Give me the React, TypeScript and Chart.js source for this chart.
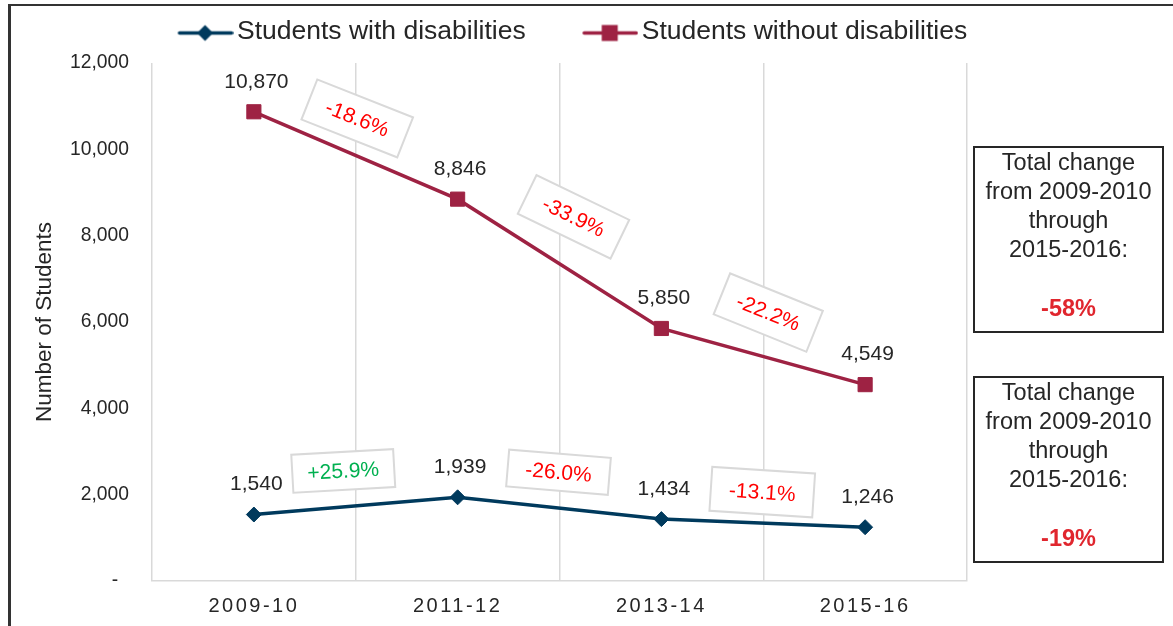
import React, { useEffect, useRef } from 'react';
import { Chart, registerables } from 'chart.js';

Chart.register(...registerables);

// ---------- data ----------
const categories = ['2009-10', '2011-12', '2013-14', '2015-16'];
const seriesNames = ['Students with disabilities', 'Students without disabilities'];
const withDisabilities = [1540, 1939, 1434, 1246];
const withoutDisabilities = [10870, 8846, 5850, 4549];
const yTicks = [0, 2000, 4000, 6000, 8000, 10000, 12000];
const changeWith = ['+25.9%', '-26.0%', '-13.1%'];
const changeWithout = ['-18.6%', '-33.9%', '-22.2%'];
const totalChangeLines = ['Total change', 'from 2009-2010', 'through', '2015-2016:'];
const totalChangeWithout = '-58%';
const totalChangeWith = '-19%';
const yTitle = 'Number of Students';

// ---------- style ----------
const FONT = "'Liberation Sans', Arial, Helvetica, sans-serif";
const BLUE = '#003A5D';
const RED = '#9E2243';
const TEXT = '#262626';
const GRID = '#d9d9d9';
const PCT_RED = '#FF0000';
const PCT_GREEN = '#00B050';
const TOTAL_RED = '#E0262E';

// change-box layout relative to segment midpoints (styling only)
const boxLayoutWithout = [
  { dx: 1.5, dy: -37, angle: 21.6, w: 103, h: 43 },
  { dx: 14, dy: -47, angle: 25.8, w: 103, h: 43 },
  { dx: 5, dy: -44, angle: 22, w: 100, h: 44 },
];
const boxLayoutWith = [
  { dx: -12.5, dy: -35, angle: -3.2, w: 102, h: 38 },
  { dx: -1, dy: -36, angle: 4.7, w: 102, h: 37 },
  { dx: -1, dy: -31, angle: 3.7, w: 103, h: 44 },
];

function makeLegendImage(color: string, kind: 'diamond' | 'square') {
  const c = document.createElement('canvas');
  c.width = 104;
  c.height = 24;
  const g = c.getContext('2d')!;
  const y = 13.5;
  const x0 = 48.5;
  g.strokeStyle = color;
  g.lineWidth = 3.5;
  g.lineCap = 'round';
  g.beginPath();
  g.moveTo(x0 + 1.5, y);
  g.lineTo(x0 + 53.5, y);
  g.stroke();
  const cx = x0 + 27;
  g.fillStyle = color;
  if (kind === 'diamond') {
    g.beginPath();
    g.moveTo(cx - 8, y);
    g.lineTo(cx, y - 8);
    g.lineTo(cx + 8, y);
    g.lineTo(cx, y + 8);
    g.closePath();
    g.fill();
  } else {
    g.fillRect(cx - 8, y - 8, 16, 16);
  }
  return c;
}

function drawChangeBoxes(ctx: CanvasRenderingContext2D, meta: any, labels: string[], layout: any[]) {
  for (let k = 0; k < labels.length; k++) {
    const a = meta.data[k];
    const b = meta.data[k + 1];
    if (!a || !b) continue;
    const L = layout[k];
    const cx = (a.x + b.x) / 2 + L.dx;
    const cy = (a.y + b.y) / 2 + L.dy;
    ctx.save();
    ctx.translate(cx, cy);
    ctx.rotate((L.angle * Math.PI) / 180);
    ctx.fillStyle = '#ffffff';
    ctx.fillRect(-L.w / 2, -L.h / 2, L.w, L.h);
    ctx.strokeStyle = GRID;
    ctx.lineWidth = 2;
    ctx.strokeRect(-L.w / 2, -L.h / 2, L.w, L.h);
    ctx.fillStyle = labels[k].startsWith('+') ? PCT_GREEN : PCT_RED;
    ctx.font = `21px ${FONT}`;
    ctx.textAlign = 'center';
    ctx.textBaseline = 'middle';
    ctx.fillText(labels[k], 0, 1);
    ctx.restore();
  }
}

function drawTotalBox(ctx: CanvasRenderingContext2D, left: number, top: number, value: string) {
  const w = 189;
  const h = 185;
  ctx.save();
  ctx.fillStyle = '#ffffff';
  ctx.fillRect(left, top, w, h);
  ctx.strokeStyle = TEXT;
  ctx.lineWidth = 2;
  ctx.strokeRect(left, top, w, h);
  ctx.textAlign = 'center';
  ctx.textBaseline = 'middle';
  ctx.fillStyle = TEXT;
  ctx.font = `23.5px ${FONT}`;
  const cx = left + w / 2;
  totalChangeLines.forEach((line, i) => {
    ctx.fillText(line, cx, top + 17 + i * 28.7);
  });
  ctx.fillStyle = TOTAL_RED;
  ctx.font = `bold 23.5px ${FONT}`;
  ctx.fillText(value, cx, top + 163);
  ctx.restore();
}

const overlayPlugin = {
  id: 'overlayPlugin',
  beforeLayout(chart: any) {
    const lg = chart.legend;
    if (lg && !lg.__patched) {
      const orig = lg.fit;
      lg.fit = function () {
        orig.call(this);
        this.height += 8.25;
      };
      lg.__patched = true;
    }
  },
  beforeDraw(chart: any) {
    (chart.ctx as any).letterSpacing = '0px';
  },
  afterDatasetsDraw(chart: any) {
    const ctx: CanvasRenderingContext2D = chart.ctx;
    ctx.save();
    ctx.font = `21px ${FONT}`;
    ctx.fillStyle = TEXT;
    ctx.textAlign = 'center';
    ctx.textBaseline = 'middle';
    chart.data.datasets.forEach((ds: any, i: number) => {
      const meta = chart.getDatasetMeta(i);
      meta.data.forEach((pt: any, j: number) => {
        ctx.fillText(Number(ds.data[j]).toLocaleString('en-US'), pt.x + 2.5, pt.y - 30);
      });
    });
    ctx.restore();
    // letter-spaced category labels are drawn next (x ticks layer z = 1)
    (ctx as any).letterSpacing = '2.5px';
  },
  afterDraw(chart: any) {
    const ctx: CanvasRenderingContext2D = chart.ctx;
    (ctx as any).letterSpacing = '0px';
    drawChangeBoxes(ctx, chart.getDatasetMeta(1), changeWithout, boxLayoutWithout);
    drawChangeBoxes(ctx, chart.getDatasetMeta(0), changeWith, boxLayoutWith);
    const left = chart.chartArea.right + 7;
    drawTotalBox(ctx, left, 147, totalChangeWithout);
    drawTotalBox(ctx, left, 377, totalChangeWith);
  },
};

export default function App() {
  const ref = useRef<HTMLCanvasElement>(null);

  useEffect(() => {
    if (!ref.current) return;
    const legendImages = [makeLegendImage(BLUE, 'diamond'), makeLegendImage(RED, 'square')];
    Chart.defaults.font.family = FONT;
    const chart = new Chart(ref.current, {
      type: 'line',
      data: {
        labels: categories,
        datasets: [
          {
            label: seriesNames[0],
            data: withDisabilities,
            borderColor: BLUE,
            backgroundColor: BLUE,
            borderWidth: 3.5,
            pointStyle: 'rectRot',
            pointRadius: 7.5,
            pointBorderWidth: 1,
            pointBackgroundColor: BLUE,
            pointBorderColor: BLUE,
            tension: 0,
            yAxisID: 'y',
          },
          {
            label: seriesNames[1],
            data: withoutDisabilities,
            borderColor: RED,
            backgroundColor: RED,
            borderWidth: 3.5,
            pointStyle: 'rect',
            pointRadius: 10,
            pointBorderWidth: 1,
            pointBackgroundColor: RED,
            pointBorderColor: RED,
            tension: 0,
            yAxisID: 'y',
          },
        ],
      },
      options: {
        responsive: false,
        animation: false,
        events: [],
        layout: { padding: { left: 0, right: 66.5, top: 0, bottom: 0 } },
        plugins: {
          tooltip: { enabled: false },
          legend: {
            position: 'top',
            align: 'center',
            labels: {
              usePointStyle: true,
              pointStyleWidth: 84.5,
              padding: 18.25,
              color: TEXT,
              font: { size: 26.5, family: FONT },
              generateLabels: (c: any) => {
                const items = (Chart.defaults.plugins.legend.labels as any).generateLabels(c);
                return items.map((it: any, i: number) => ({ ...it, pointStyle: legendImages[i] }));
              },
            },
          },
        },
        scales: {
          x: {
            type: 'category',
            offset: true,
            grid: { display: true, offset: true, color: GRID, lineWidth: 1.5, drawTicks: false },
            border: { display: true, color: GRID, width: 1.5 },
            ticks: {
              color: TEXT,
              font: { size: 20, family: FONT },
              padding: 13.5,
              maxRotation: 0,
              autoSkip: false,
              z: 1,
            },
            afterFit: (s: any) => {
              s.height = 45;
            },
          },
          y: {
            type: 'linear',
            position: 'left',
            min: 0,
            max: 12000,
            grid: { display: false, drawTicks: false },
            border: { display: false },
            ticks: {
              color: TEXT,
              font: { size: 19.3, family: FONT },
              padding: 23,
              callback: (v: any) => (Number(v) === 0 ? '-  ' : Number(v).toLocaleString('en-US')),
            },
            afterBuildTicks: (s: any) => {
              s.ticks = yTicks.map((v) => ({ value: v }));
            },
            title: {
              display: true,
              text: yTitle,
              color: TEXT,
              font: { size: 22.5, family: FONT },
              padding: { top: 31.5, bottom: 0 },
            },
            afterFit: (s: any) => {
              s.width = 152;
            },
          },
          yR: {
            type: 'linear',
            position: 'right',
            display: true,
            grid: { display: false, drawTicks: false },
            border: { display: false },
            ticks: { display: false },
            afterFit: (s: any) => {
              s.width = 139.5;
            },
          },
        },
      } as any,
      plugins: [overlayPlugin as any],
    });
    return () => chart.destroy();
  }, []);

  return (
    <div
      style={{
        position: 'absolute',
        left: 0,
        top: 0,
        width: 1173,
        height: 626,
        overflow: 'hidden',
        background: '#ffffff',
      }}
    >
      <div
        style={{
          position: 'absolute',
          left: 8,
          top: 4,
          width: 1400,
          height: 900,
          borderLeft: '3px solid #333333',
          borderTop: '2px solid #333333',
        }}
      />
      <canvas
        ref={ref}
        width={1173}
        height={626}
        style={{ position: 'absolute', left: 0, top: 0, display: 'block' }}
      />
    </div>
  );
}
